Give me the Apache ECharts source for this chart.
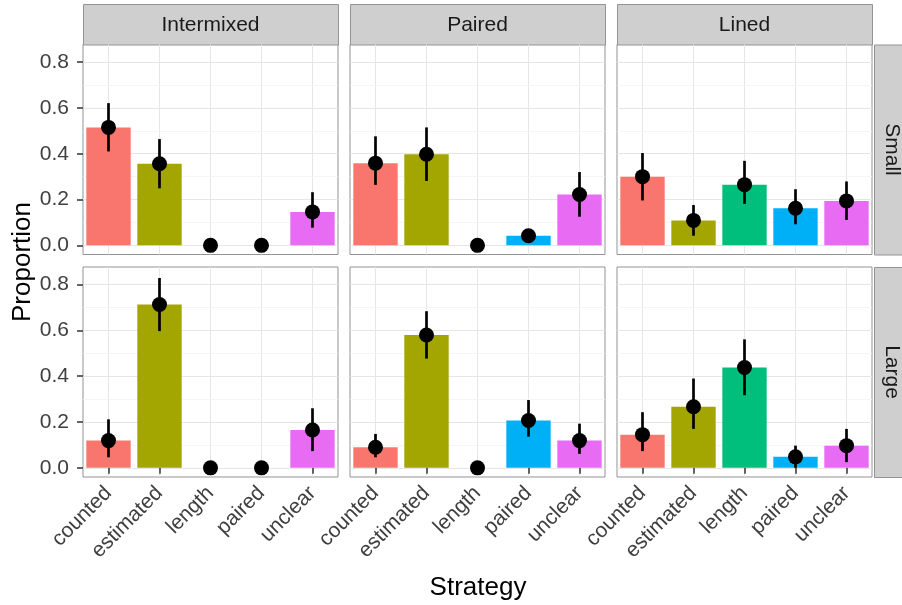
<!DOCTYPE html>
<html>
<head>
<meta charset="utf-8">
<script src="https://cdn.jsdelivr.net/npm/echarts@6/dist/echarts.min.js"></script>
<style>html,body{margin:0;padding:0;background:#fff}#c{width:902px;height:605px}</style>
</head>
<body>
<div id="c"></div>
<script>
// ---- data ----
const strategies = ['counted', 'estimated', 'length', 'paired', 'unclear'];
const layouts = ['Intermixed', 'Paired', 'Lined'];
const sizes = ['Small', 'Large'];
const yTicks = [0, 0.2, 0.4, 0.6, 0.8];
const strategyColors = ['#F8766D', '#A3A500', '#00BF7D', '#00B0F6', '#E76BF3'];

const smallIntermixed     = [0.515, 0.356, 0, 0, 0.146];
const smallIntermixedLow  = [0.410, 0.249, 0, 0, 0.077];
const smallIntermixedHigh = [0.621, 0.464, 0, 0, 0.232];

const smallPaired     = [0.359, 0.398, 0, 0.042, 0.222];
const smallPairedLow  = [0.264, 0.281, 0, 0.015, 0.125];
const smallPairedHigh = [0.476, 0.515, 0, 0.070, 0.320];

const smallLined     = [0.300, 0.109, 0.265, 0.162, 0.194];
const smallLinedLow  = [0.196, 0.042, 0.181, 0.092, 0.111];
const smallLinedHigh = [0.403, 0.176, 0.369, 0.245, 0.279];

const largeIntermixed     = [0.119, 0.713, 0, 0, 0.165];
const largeIntermixedLow  = [0.046, 0.597, 0, 0, 0.073];
const largeIntermixedHigh = [0.212, 0.829, 0, 0, 0.260];

const largePaired     = [0.090, 0.580, 0, 0.207, 0.119];
const largePairedLow  = [0.046, 0.477, 0, 0.136, 0.061];
const largePairedHigh = [0.148, 0.684, 0, 0.296, 0.193];

const largeLined     = [0.145, 0.267, 0.438, 0.048, 0.097];
const largeLinedLow  = [0.073, 0.170, 0.317, 0.000, 0.025];
const largeLinedHigh = [0.243, 0.390, 0.561, 0.097, 0.170];

const panels = [
  [smallIntermixed, smallIntermixedLow, smallIntermixedHigh],
  [smallPaired, smallPairedLow, smallPairedHigh],
  [smallLined, smallLinedLow, smallLinedHigh],
  [largeIntermixed, largeIntermixedLow, largeIntermixedHigh],
  [largePaired, largePairedLow, largePairedHigh],
  [largeLined, largeLinedLow, largeLinedHigh]
];

// ---- layout ----
const FONT = 'Liberation Sans, Arial, sans-serif';
const colLeft = [83, 350, 617];
const panelW = 255;
const rowTop = [44.5, 267];
const panelH = 210;
const yMin = -0.04, yMax = 0.877;

const chart = echarts.init(document.getElementById('c'), null, {renderer: 'canvas'});

const grids = [], xAxes = [], yAxes = [], series = [];
panels.forEach((p, i) => {
  const r = Math.floor(i / 3), c = i % 3;
  grids.push({
    left: colLeft[c], top: rowTop[r], width: panelW, height: panelH,
    show: true, backgroundColor: '#fff', borderColor: '#939393', borderWidth: 1, containLabel: false
  });
  xAxes.push({
    type: 'category', gridIndex: i, data: strategies,
    axisLine: {show: false},
    axisTick: {show: r === 1, alignWithLabel: true, length: 6, lineStyle: {color: '#333', width: 1.5}},
    axisLabel: {show: r === 1, rotate: 45, interval: 0, margin: 13, fontSize: 21, color: '#3f3f3f', fontFamily: FONT},
    splitLine: {show: true, interval: 0, alignWithLabel: true, lineStyle: {color: '#E6E6E6', width: 1}}
  });
  yAxes.push({
    type: 'value', gridIndex: i, min: yMin, max: yMax,
    axisLine: {show: false},
    axisTick: {show: c === 0, length: 6, customValues: yTicks, lineStyle: {color: '#333', width: 1.5}},
    axisLabel: {show: c === 0, customValues: yTicks, margin: 14, fontSize: 21, color: '#3f3f3f', fontFamily: FONT,
      formatter: v => (Math.abs(v * 5 - Math.round(v * 5)) < 1e-6 ? v.toFixed(1) : '')},
    splitLine: {show: true, lineStyle: {color: '#E6E6E6', width: 1}}
  });
  const [vals, lo, hi] = p;
  series.push({
    type: 'bar', xAxisIndex: i, yAxisIndex: i, z: 2,
    barWidth: '87%',
    data: vals.map((v, k) => ({value: v, itemStyle: {color: strategyColors[k]}})),
    markLine: {
      silent: true, symbol: 'none', z: 1, label: {show: false},
      lineStyle: {color: '#F2F2F2', width: 0.8, type: 'solid'},
      emphasis: {disabled: true},
      data: [{yAxis: 0.1}, {yAxis: 0.3}, {yAxis: 0.5}, {yAxis: 0.7}]
    }
  });
  series.push({
    type: 'custom', xAxisIndex: i, yAxisIndex: i, z: 3,
    data: vals.map((v, k) => [k, lo[k], hi[k]]),
    encode: {x: 0, y: [1, 2]},
    renderItem: (params, api) => {
      const x = api.value(0), a = api.value(1), b = api.value(2);
      if (!(b > a)) return null;
      const p1 = api.coord([x, a]), p2 = api.coord([x, b]);
      return {type: 'line', shape: {x1: p1[0], y1: p1[1], x2: p2[0], y2: p2[1]}, style: {stroke: '#000', lineWidth: 2.7}};
    }
  });
  series.push({
    type: 'scatter', xAxisIndex: i, yAxisIndex: i, z: 4,
    symbol: 'circle', symbolSize: 15, clip: false,
    itemStyle: {color: '#000', opacity: 1},
    data: vals.slice()
  });
});

const graphics = [];
layouts.forEach((name, c) => {
  graphics.push({type: 'rect', left: colLeft[c], top: 4, shape: {width: panelW, height: 40.5},
    style: {fill: '#CFCFCF', stroke: '#939393', lineWidth: 1}});
  graphics.push({type: 'text', x: colLeft[c] + panelW / 2, y: 25,
    style: {text: name, fill: '#1A1A1A', font: '21px ' + FONT, textAlign: 'center', textVerticalAlign: 'middle'}});
});
sizes.forEach((name, r) => {
  graphics.push({type: 'rect', left: 874, top: rowTop[r], shape: {width: 32, height: panelH},
    style: {fill: '#CFCFCF', stroke: '#939393', lineWidth: 1}});
  graphics.push({type: 'text', x: 892, y: rowTop[r] + panelH / 2, rotation: -Math.PI / 2,
    style: {text: name, fill: '#1A1A1A', font: '21px ' + FONT, textAlign: 'center', textVerticalAlign: 'middle'}});
});
graphics.push({type: 'text', x: 23, y: 262, rotation: Math.PI / 2,
  style: {text: 'Proportion', fill: '#000', font: '26px ' + FONT, textAlign: 'center', textVerticalAlign: 'middle'}});
graphics.push({type: 'text', x: 478, y: 588,
  style: {text: 'Strategy', fill: '#000', font: '26px ' + FONT, textAlign: 'center', textVerticalAlign: 'middle'}});

chart.setOption({
  animation: false,
  backgroundColor: '#fff',
  textStyle: {fontFamily: FONT},
  grid: grids, xAxis: xAxes, yAxis: yAxes, series: series,
  graphic: graphics
});
</script>
</body>
</html>
